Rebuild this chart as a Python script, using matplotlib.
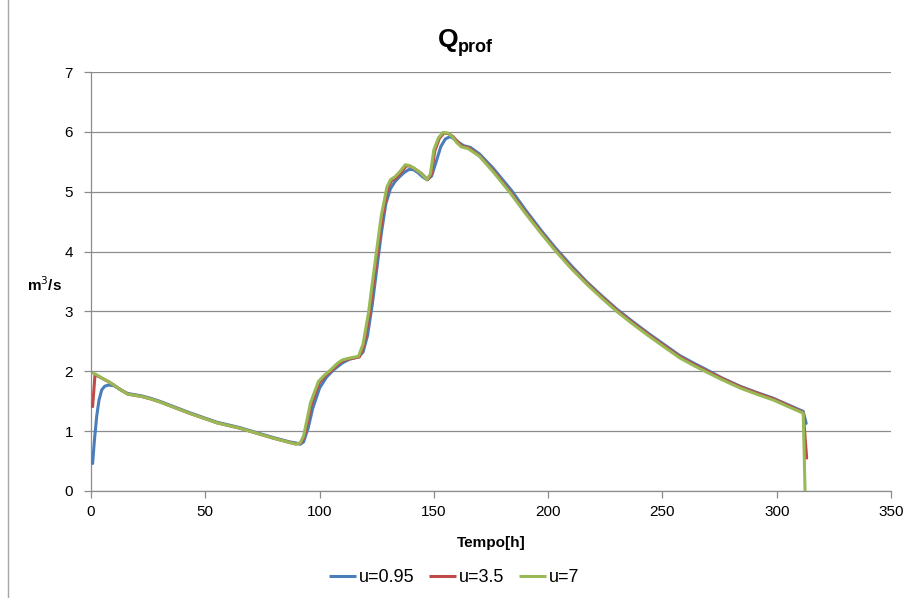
import matplotlib
matplotlib.use("Agg")
import matplotlib.pyplot as plt
from matplotlib.lines import Line2D

plt.rcParams["font.family"] = ["Liberation Sans Narrow", "Liberation Sans", "DejaVu Sans"]

# ---------------------------------------------------------------------------
# Data
# ---------------------------------------------------------------------------
t_u7 = [1, 3, 5, 7.5, 10, 13, 16, 19, 22, 26, 30, 43, 55, 65, 80, 87, 89.5,
        91.5, 93, 94.5, 96, 99.5, 102, 105, 108, 110, 113, 117, 119, 121.5,
        123, 125, 127, 129.5, 131, 133, 135, 137.5, 139, 141, 144, 147,
        148.5, 150, 152, 154, 156, 158, 160, 162, 165, 170, 176, 183, 190,
        197, 203, 210, 217, 223.5, 230, 237, 244, 251, 257.7, 264, 268.6,
        276, 284, 291, 298.5, 305, 311.6, 312.4]
q_u7 = [1.97, 1.93, 1.88, 1.83, 1.77, 1.69, 1.62, 1.60, 1.58, 1.54, 1.49,
        1.30, 1.14, 1.05, 0.88, 0.81, 0.785, 0.80, 0.92, 1.19, 1.47, 1.83,
        1.93, 2.03, 2.14, 2.19, 2.22, 2.25, 2.45, 3.00, 3.45, 4.03, 4.60,
        5.08, 5.20, 5.25, 5.33, 5.45, 5.44, 5.40, 5.32, 5.20, 5.30, 5.70,
        5.90, 5.99, 5.98, 5.92, 5.82, 5.75, 5.72, 5.59, 5.33, 5.00, 4.64,
        4.30, 4.02, 3.72, 3.45, 3.22, 3.00, 2.79, 2.59, 2.40, 2.22, 2.09,
        2.00, 1.86, 1.72, 1.62, 1.52, 1.41, 1.30, 0.0]

t_u35 = [0.7, 1.75, 3, 5, 7.5, 10, 13, 16, 19, 22, 26, 30, 43, 55, 65, 80,
         87, 89.7, 91.8, 93.3, 94.9, 96.4, 99.9, 102.4, 105.4, 108.4, 110.4,
         113.4, 117.4, 119.4, 121.9, 123.4, 125.4, 127.4, 129.9, 131.4,
         133.4, 135.4, 137.9, 139.4, 141.4, 144.4, 147.3, 148.9, 150.4,
         152.4, 154.4, 156.4, 158.4, 160.4, 162.4, 165.4, 170, 176, 183, 190,
         197, 203, 210, 217, 223.5, 230, 237, 244, 251, 257.7, 264, 268.6,
         276, 284, 291, 298.5, 305, 311.6, 313.1]
q_u35 = [1.41, 1.94, 1.92, 1.88, 1.83, 1.77, 1.69, 1.62, 1.60, 1.58, 1.54,
         1.49, 1.30, 1.14, 1.05, 0.88, 0.81, 0.785, 0.80, 0.91, 1.17, 1.45,
         1.81, 1.92, 2.02, 2.13, 2.18, 2.21, 2.24, 2.43, 2.97, 3.42, 4.00,
         4.57, 5.06, 5.18, 5.23, 5.31, 5.43, 5.43, 5.39, 5.31, 5.20, 5.29,
         5.68, 5.89, 5.98, 5.97, 5.92, 5.83, 5.76, 5.73, 5.60, 5.35, 5.02,
         4.66, 4.32, 4.04, 3.74, 3.47, 3.24, 3.02, 2.81, 2.61, 2.42, 2.24,
         2.11, 2.02, 1.88, 1.74, 1.64, 1.54, 1.43, 1.31, 0.55]

t_u095 = [0.7, 1.5, 2.5, 3.5, 4.7, 6, 7.6, 10, 13, 16, 19, 22, 26, 30, 43,
          55, 65, 80, 87, 90, 91.5, 93, 95, 97, 100, 103, 106, 110, 113, 117,
          119, 121, 123, 125, 127, 129, 131, 133, 135, 137, 139, 141, 143,
          145, 147, 149, 151, 153, 155, 157, 159, 161, 163, 166, 170, 176,
          184, 190, 197, 203, 210, 217, 223.5, 230, 237, 244, 251, 257.7, 264,
          268.6, 276, 284, 291, 298.5, 305, 311.6, 312.9]
q_u095 = [0.46, 0.85, 1.25, 1.52, 1.69, 1.75, 1.77, 1.76, 1.69, 1.63, 1.61,
          1.59, 1.55, 1.50, 1.31, 1.15, 1.06, 0.89, 0.82, 0.80, 0.78, 0.82,
          1.05, 1.38, 1.72, 1.90, 2.02, 2.14, 2.20, 2.24, 2.32, 2.60, 3.10,
          3.70, 4.30, 4.80, 5.05, 5.17, 5.25, 5.32, 5.37, 5.37, 5.32, 5.25,
          5.20, 5.26, 5.50, 5.75, 5.88, 5.92, 5.88, 5.82, 5.77, 5.74, 5.63,
          5.39, 5.02, 4.70, 4.35, 4.07, 3.77, 3.49, 3.26, 3.04, 2.83, 2.63,
          2.44, 2.26, 2.13, 2.04, 1.89, 1.75, 1.65, 1.55, 1.44, 1.33, 1.13]

series_labels = ["u=0.95", "u=3.5", "u=7"]
series_colors = ["#4A7EBB", "#BE4B48", "#98B954"]

# ---------------------------------------------------------------------------
# Figure
# ---------------------------------------------------------------------------
fig = plt.figure(figsize=(9.08, 5.98), dpi=100)
ax = fig.add_axes([91 / 908, 107 / 598, 800 / 908, 419 / 598])

for t, q, c in zip([t_u095, t_u35, t_u7], [q_u095, q_u35, q_u7], series_colors):
    ax.plot(t, q, color=c, lw=2.2, solid_joinstyle="round",
            solid_capstyle="round", zorder=3)

ax.set_xlim(0, 350)
ax.set_ylim(0, 7)
ax.set_xticks(range(0, 351, 50))
ax.set_yticks(range(0, 8))
ax.yaxis.grid(True, color="#8c8c8c", lw=0.9)
ax.set_axisbelow(True)

for s in ["top", "right"]:
    ax.spines[s].set_visible(False)
for s in ["left", "bottom"]:
    ax.spines[s].set_color("#8c8c8c")
    ax.spines[s].set_linewidth(0.9)
ax.tick_params(axis="both", colors="#8c8c8c", labelcolor="black",
               labelsize=11, length=5, width=0.9)
ax.tick_params(axis="y", pad=8)
ax.tick_params(axis="x", pad=5)

ax.set_xlabel("Tempo[h]", fontsize=11, fontweight="bold", labelpad=12)
fig.text(45 / 908, 1 - 285 / 598, "m$^3$/s", fontsize=11, fontweight="bold",
         ha="center", va="center")

# title Q_prof
fig.text(458 / 908, 1 - 40 / 598, "Q", fontsize=19, fontweight="bold",
         ha="right", va="center")
fig.text(458 / 908, 1 - 48 / 598, "prof", fontsize=13, fontweight="bold",
         ha="left", va="center")

handles = [Line2D([0], [0], color=c, lw=2.2, solid_capstyle="butt")
           for c in series_colors]
fig.legend(handles, series_labels, loc="center", ncol=3,
           bbox_to_anchor=(0.5, 1 - 578 / 598), frameon=False, fontsize=13,
           handlelength=1.5, handletextpad=0.15, columnspacing=0.8)

# chart area border on the left
fig.add_artist(Line2D([8 / 908, 8 / 908], [0, 1], color="#a6a6a6", lw=1,
                      transform=fig.transFigure))

fig.savefig("out.png", dpi=100, facecolor="white")
